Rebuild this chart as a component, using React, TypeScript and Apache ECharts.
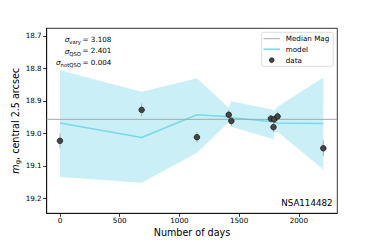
import React, { useEffect, useRef } from "react";
import * as echarts from "echarts";

const days = [0, 684, 1147, 1413, 1435, 1766, 1788, 1794, 1822, 2205];
const mags = [19.023, 18.928, 19.012, 18.943, 18.962, 18.955, 18.981, 18.957, 18.948, 19.046];
const magErr = [0.023, 0.02, 0.017, 0.015, 0.015, 0.012, 0.015, 0.012, 0.014, 0.024];
const modelMag = [18.968, 19.013, 18.943, 18.949, 18.952, 18.964, 18.966, 18.967, 18.968, 18.97];
const bandUpper = [18.806, 18.872, 18.831, 18.921, 18.901, 18.926, 18.93, 18.93, 18.918, 18.828];
const bandLower = [19.134, 19.152, 19.06, 18.966, 18.98, 19.016, 19.02, 19.0, 18.995, 19.111];
const medianMag = 18.957;
const xTicks = [0, 500, 1000, 1500, 2000];
const yTicks = [18.7, 18.8, 18.9, 19.0, 19.1, 19.2];
const xRange = [-111, 2322];
const yRange = [18.677, 19.246];
const sigmaNames = ["vary", "QSO", "notQSO"];
const sigmaValues = ["3.108", "2.401", "0.004"];
const legendNames = ["Median Mag", "model", "data"];
const objectName = "NSA114482";

const FONT = "DejaVu Sans";
const MEDIAN_COLOR = "#a8a8a8";
const MODEL_COLOR = "#79d8ea";
const DATA_COLOR = "#454545";

export default function App() {
  const ref = useRef<HTMLDivElement>(null);
  useEffect(() => {
    if (!ref.current) return;
    const chart = echarts.init(ref.current, undefined, { renderer: "svg" });
    const bandData = days.map((d, i) => [d, bandLower[i], bandUpper[i]]);
    const sigmaGraphics: any[] = [];
    const sigmaY = [39.5, 51.3, 62.8];
    sigmaNames.forEach((n, i) => {
      sigmaGraphics.push({
        type: "text",
        x: 81,
        y: sigmaY[i],
        z: 100,
        style: {
          text: `{s|σ}{sub|${n}}`,
          align: "right",
          verticalAlign: "middle",
          fontFamily: FONT,
          fill: "#000",
          rich: {
            s: { fontSize: 7.4, fontStyle: "italic", lineHeight: 10, fontFamily: FONT, fill: "#000" },
            sub: { fontSize: 5.3, lineHeight: 6, verticalAlign: "bottom", fontFamily: FONT, fill: "#000" },
          },
        },
      });
      sigmaGraphics.push({
        type: "text",
        x: 82.5,
        y: sigmaY[i] - 0.5,
        z: 100,
        style: {
          text: `= ${sigmaValues[i]}`,
          align: "left",
          verticalAlign: "middle",
          fontFamily: FONT,
          fontSize: 7.2,
          fill: "#000",
        },
      });
    });

    const legendRows = [38.7, 49.2, 60.2];
    const legendGraphics: any[] = [
      {
        type: "rect",
        z: 100,
        shape: { x: 261.7, y: 32.3, width: 71.5, height: 34, r: 2 },
        style: { fill: "rgba(255,255,255,0.85)", stroke: "#d3d3d3", lineWidth: 0.8 },
      },
      {
        type: "line",
        z: 101,
        shape: { x1: 263.5, y1: legendRows[0], x2: 280, y2: legendRows[0] },
        style: { stroke: MEDIAN_COLOR, lineWidth: 1 },
      },
      {
        type: "line",
        z: 101,
        shape: { x1: 263.5, y1: legendRows[1], x2: 280, y2: legendRows[1] },
        style: { stroke: MODEL_COLOR, lineWidth: 1.5 },
      },
      {
        type: "circle",
        z: 101,
        shape: { cx: 271.7, cy: legendRows[2], r: 2.4 },
        style: { fill: DATA_COLOR, stroke: "#111", lineWidth: 0.6 },
      },
      ...legendNames.map((name, i) => ({
        type: "text",
        z: 101,
        x: 285.7,
        y: legendRows[i],
        style: {
          text: name,
          fontFamily: FONT,
          fontSize: 7.2,
          fill: "#000",
          align: "left",
          verticalAlign: "middle",
        },
      })),
    ];

    chart.setOption({
      animation: false,
      textStyle: { fontFamily: FONT },
      grid: {
        left: 46.7,
        right: 36.7,
        top: 28.3,
        bottom: 26.7,
        containLabel: false,
        outerBoundsMode: "none",
        show: true,
        borderColor: "#000",
        borderWidth: 0.8,
        backgroundColor: "transparent",
      },
      xAxis: {
        type: "value",
        min: xRange[0],
        max: xRange[1],
        name: "Number of days",
        nameLocation: "middle",
        nameGap: 14,
        nameMoveOverlap: false,
        nameTextStyle: { fontSize: 9.6, color: "#000", fontFamily: FONT },
        axisLine: { show: true, onZero: false, lineStyle: { color: "#000", width: 0.8 } },
        axisTick: { show: true, length: 3.5, lineStyle: { color: "#000", width: 0.8 }, customValues: xTicks },
        axisLabel: {
          fontSize: 7.2,
          color: "#000",
          margin: 4,
          customValues: xTicks,
          fontFamily: FONT,
          formatter: (v: number) => String(v),
        },
        splitLine: { show: false },
      },
      yAxis: {
        type: "value",
        inverse: true,
        min: yRange[0],
        max: yRange[1],
        name: "{i|m}{sub|g}{n|, central 2.5 arcsec}",
        nameLocation: "middle",
        nameRotate: 90,
        nameGap: 25,
        nameMoveOverlap: false,
        nameTextStyle: {
          color: "#000",
          fontFamily: FONT,
          rich: {
            i: { fontSize: 9.6, fontStyle: "italic", lineHeight: 12, fontFamily: FONT, color: "#000" },
            sub: { fontSize: 6.8, lineHeight: 7, verticalAlign: "bottom", fontFamily: FONT, color: "#000" },
            n: { fontSize: 9.6, lineHeight: 12, fontFamily: FONT, color: "#000" },
          },
        },
        axisLine: { show: true, onZero: false, lineStyle: { color: "#000", width: 0.8 } },
        axisTick: { show: true, length: 3.5, lineStyle: { color: "#000", width: 0.8 }, customValues: yTicks },
        axisLabel: {
          fontSize: 7.2,
          color: "#000",
          margin: 5,
          customValues: yTicks,
          fontFamily: FONT,
          formatter: (v: number) => v.toFixed(1),
        },
        splitLine: { show: false },
      },
      graphic: [
        ...sigmaGraphics,
        ...legendGraphics,
        {
          type: "text",
          right: 41.5,
          top: 198.5,
          z: 100,
          style: {
            text: objectName,
            fontFamily: FONT,
            fontSize: 8.7,
            fill: "#000",
          },
        },
      ],
      series: [
        {
          type: "custom",
          name: "band",
          silent: true,
          clip: true,
          z: 1,
          data: bandData,
          renderItem: (params: any, api: any) => {
            if (params.dataIndex !== 0) return null;
            const up = bandData.map((r) => api.coord([r[0], r[2]]));
            const lo = bandData.map((r) => api.coord([r[0], r[1]])).reverse();
            return {
              type: "polygon",
              shape: { points: up.concat(lo) },
              style: { fill: "rgba(126,216,234,0.4)", stroke: "none" },
            };
          },
        },
        {
          type: "line",
          name: "model",
          z: 2,
          data: days.map((d, i) => [d, modelMag[i]]),
          symbol: "none",
          lineStyle: { color: MODEL_COLOR, width: 1.5 },
          itemStyle: { color: MODEL_COLOR },
        },
        {
          type: "line",
          name: "Median Mag",
          z: 3,
          data: [
            [xRange[0], medianMag],
            [xRange[1], medianMag],
          ],
          symbol: "none",
          lineStyle: { color: MEDIAN_COLOR, width: 1 },
          itemStyle: { color: MEDIAN_COLOR },
        },
        {
          type: "custom",
          name: "errors",
          silent: true,
          z: 4,
          data: days.map((d, i) => [d, mags[i], magErr[i]]),
          renderItem: (params: any, api: any) => {
            const x = api.value(0);
            const y = api.value(1);
            const e = api.value(2);
            const p1 = api.coord([x, y - e]);
            const p2 = api.coord([x, y + e]);
            return {
              type: "line",
              shape: { x1: p1[0], y1: p1[1], x2: p2[0], y2: p2[1] },
              style: { stroke: "#b0b0b0", lineWidth: 1 },
            };
          },
        },
        {
          type: "scatter",
          name: "data",
          z: 5,
          data: days.map((d, i) => [d, mags[i]]),
          symbolSize: 5.6,
          itemStyle: { color: DATA_COLOR, borderColor: "#111", borderWidth: 0.7, opacity: 1 },
        },
      ],
    });
    return () => chart.dispose();
  }, []);
  return <div ref={ref} style={{ width: 374, height: 240, position: "absolute", left: 0, top: 0 }} />;
}
